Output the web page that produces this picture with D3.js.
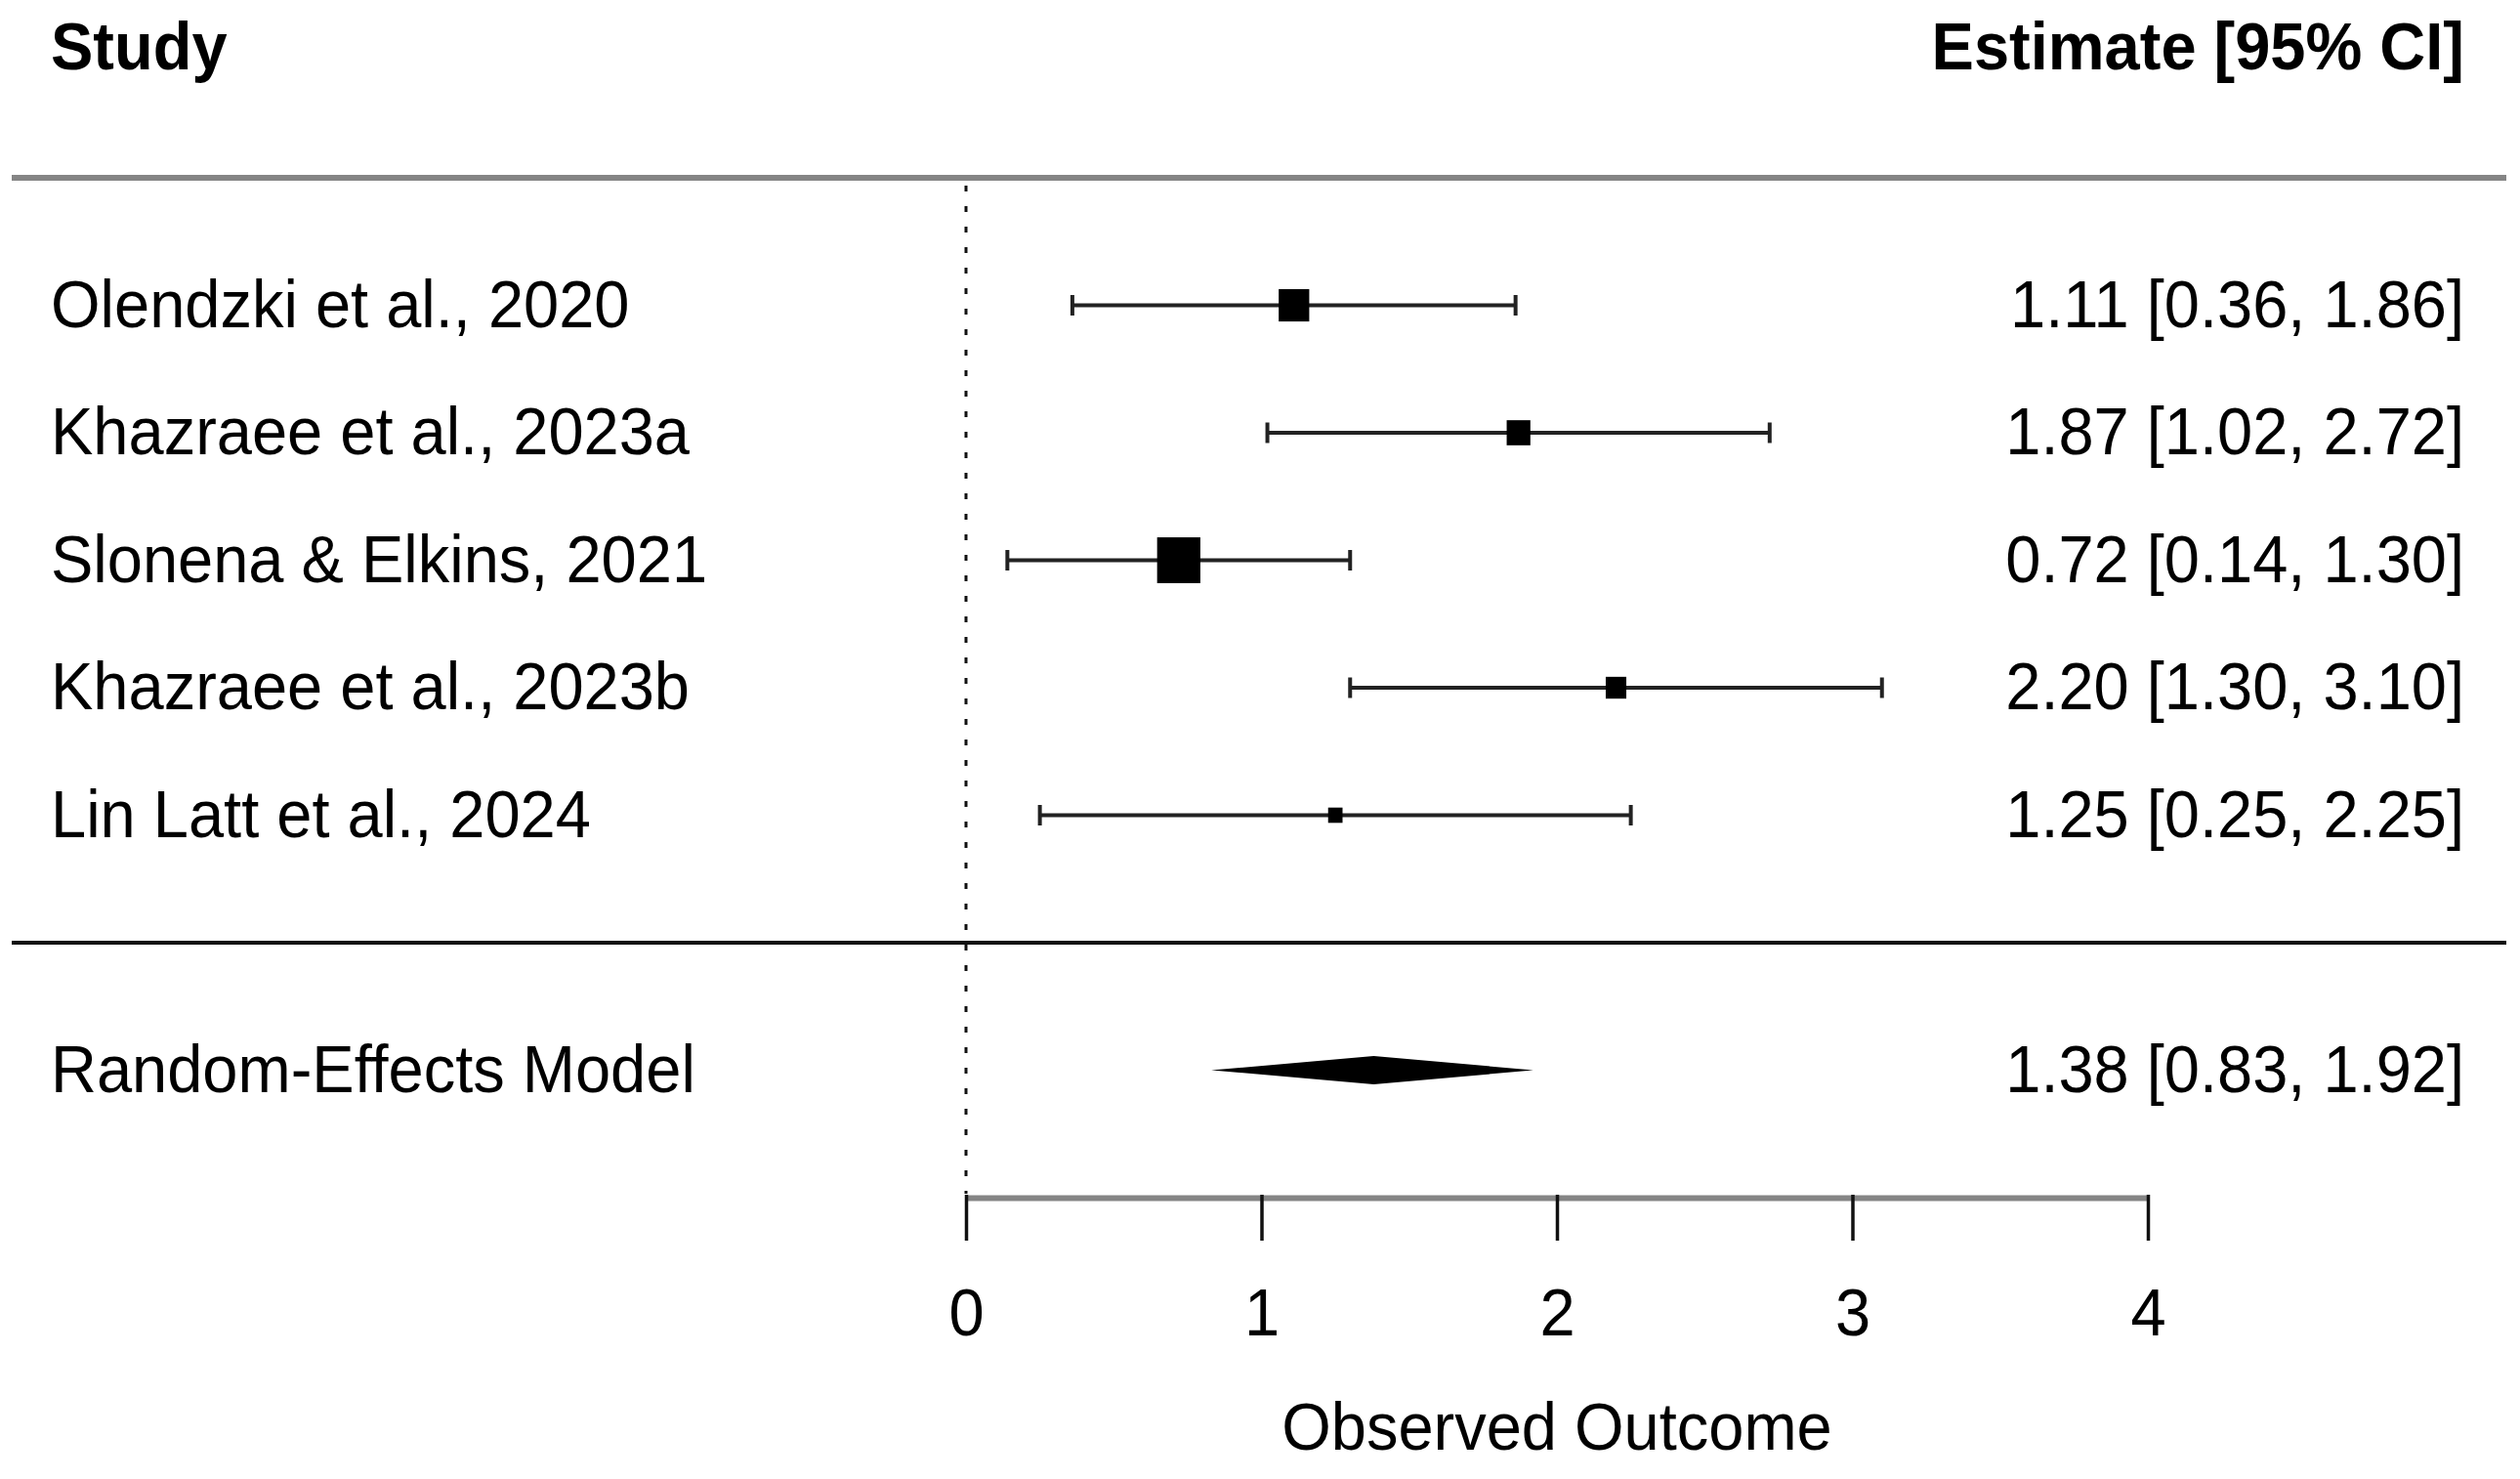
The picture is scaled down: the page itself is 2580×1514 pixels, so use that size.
<!DOCTYPE html>
<html>
<head>
<meta charset="utf-8">
<script src="https://cdn.jsdelivr.net/npm/d3@7"></script>
<style>
  html, body { margin: 0; padding: 0; background: #ffffff; }
  svg { display: block; }
  text { font-family: "Liberation Sans", Arial, Helvetica, sans-serif; fill: #000; }
</style>
</head>
<body>
<script>
// ---- Data ----
const studies   = ["Olendzki et al., 2020", "Khazraee et al., 2023a", "Slonena & Elkins, 2021", "Khazraee et al., 2023b", "Lin Latt et al., 2024"];
const estimates = [1.11, 1.87, 0.72, 2.20, 1.25];
const lowers    = [0.36, 1.02, 0.14, 1.30, 0.25];
const uppers    = [1.86, 2.72, 1.30, 3.10, 2.25];
const weights   = [21.2, 19.2, 24.9, 18.3, 16.5];   // % weights (random-effects)
const modelLabel = "Random-Effects Model";
const modelEst   = [1.38, 0.83, 1.92];               // estimate, lower, upper
const xTicks     = [0, 1, 2, 3, 4];
const headerLeft = "Study";
const headerRight = "Estimate [95% CI]";
const xTitle     = "Observed Outcome";

// ---- Layout ----
const W = 2580, H = 1514;
const FS = 65, VS = 1.06;          // font size and vertical text stretch
const leftX = 52, rightX = 2523, lineL = 12, lineR = 2566;

const svg = d3.select("body").append("svg").attr("width", W).attr("height", H);
svg.append("rect").attr("width", W).attr("height", H).attr("fill", "#fff");

const x = d3.scaleLinear().domain([0, 4]).range([989, 2199]);
// row index: -1 header, 0 top rule, 1..5 studies, 6 separator, 7 model, 8 axis
const y = d3.scaleLinear().domain([0, 8]).range([182, 1226]);
const fmt = d3.format(".2f");
const wExt = d3.extent(weights);
const size = d3.scaleLinear().domain(wExt).range([0.5 * 29.5, 1.5 * 29.5]);

function label(txt, px, py, anchor, bold) {
  svg.append("text")
    .attr("transform", `translate(${px},${py}) scale(1,${VS})`)
    .attr("text-anchor", anchor)
    .attr("font-size", FS)
    .attr("font-weight", bold ? "bold" : "normal")
    .text(txt);
}

// headers
label(headerLeft, leftX, y(-1) + 19, "start", true);
label(headerRight, rightX, y(-1) + 19, "end", true);

// rules
svg.append("line").attr("x1", lineL).attr("x2", lineR).attr("y1", y(0)).attr("y2", y(0))
  .attr("stroke", "#858585").attr("stroke-width", 6);
svg.append("line").attr("x1", lineL).attr("x2", lineR).attr("y1", y(6)).attr("y2", y(6))
  .attr("stroke", "#111").attr("stroke-width", 4);

// reference line at 0
svg.append("line").attr("x1", x(0)).attr("x2", x(0)).attr("y1", y(0) + 8).attr("y2", y(8) - 4)
  .attr("stroke", "#111").attr("stroke-width", 3).attr("stroke-dasharray", "6,15");

// study rows
const rows = studies.map((s, i) => ({ s, est: estimates[i], lb: lowers[i], ub: uppers[i], w: weights[i], row: i + 1 }));
const g = svg.append("g");
rows.forEach(d => {
  const cy = y(d.row);
  g.append("line").attr("x1", x(d.lb)).attr("x2", x(d.ub)).attr("y1", cy).attr("y2", cy)
    .attr("stroke", "#222").attr("stroke-width", 4);
  [d.lb, d.ub].forEach(v => {
    g.append("line").attr("x1", x(v)).attr("x2", x(v)).attr("y1", cy - 10.5).attr("y2", cy + 10.5)
      .attr("stroke", "#222").attr("stroke-width", 4);
  });
  const s = size(d.w);
  g.append("rect").attr("x", x(d.est) - s / 2).attr("y", cy - s * VS / 2)
    .attr("width", s).attr("height", s * VS).attr("fill", "#000");
  label(d.s, leftX, cy + 22, "start", false);
  label(`${fmt(d.est)} [${fmt(d.lb)}, ${fmt(d.ub)}]`, rightX, cy + 22, "end", false);
});

// model diamond
const my = y(7);
svg.append("polygon")
  .attr("points", [[x(modelEst[1]), my], [x(modelEst[0]), my - 14.5], [x(modelEst[2]), my], [x(modelEst[0]), my + 14.5]].map(p => p.join(",")).join(" "))
  .attr("fill", "#000");
label(modelLabel, leftX, my + 22, "start", false);
label(`${fmt(modelEst[0])} [${fmt(modelEst[1])}, ${fmt(modelEst[2])}]`, rightX, my + 22, "end", false);

// x axis
const axis = svg.append("g").attr("transform", `translate(0,${y(8)})`)
  .call(d3.axisBottom(x).tickValues(xTicks).tickFormat(d3.format("d")).tickSize(44).tickSizeOuter(0));
axis.select(".domain").attr("stroke", "#858585").attr("stroke-width", 6);
axis.selectAll(".tick line").attr("stroke", "#111").attr("stroke-width", 3.5).attr("y1", -3);
axis.selectAll(".tick text")
  .attr("y", 0).attr("dy", 0)
  .attr("transform", `translate(0,141) scale(1,${VS})`)
  .attr("font-size", FS)
  .attr("font-family", "\"Liberation Sans\", Arial, sans-serif")
  .attr("fill", "#000");

// axis title
label(xTitle, x(2), 1484, "middle", false);
</script>
</body>
</html>
